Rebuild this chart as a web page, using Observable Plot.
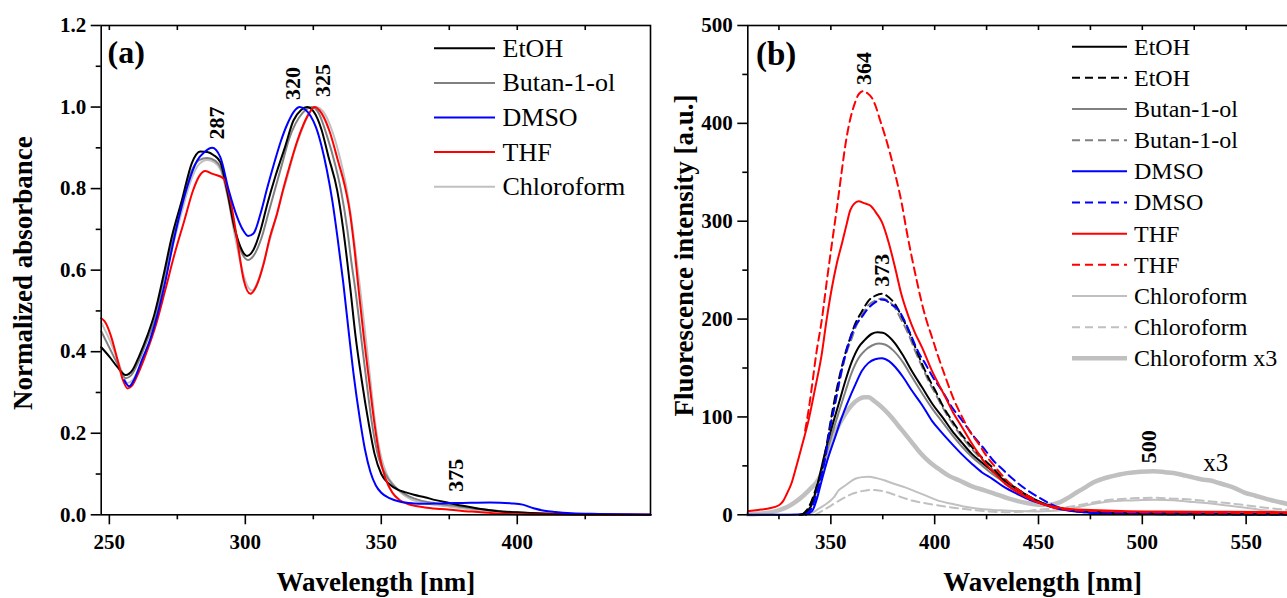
<!DOCTYPE html>
<html>
<head>
<meta charset="utf-8">
<script src="https://cdn.jsdelivr.net/npm/d3@7"></script>
<script src="https://cdn.jsdelivr.net/npm/@observablehq/plot@0.6"></script>
<style>
  html, body { margin: 0; padding: 0; background: #fff; overflow: hidden; }
  #wrap { position: relative; width: 1287px; height: 598px; overflow: hidden; }
  .panel { position: absolute; top: 0; }
  .overlay { position: absolute; top: 0; left: 0; pointer-events: none; }
</style>
</head>
<body>
<div id="wrap"></div>
<script>
const FONT = "'Liberation Serif','Times New Roman',Times,serif";

// ---------- Panel (a): normalized absorbance ----------
const absEtOH = [[247,0.411],[250,0.388],[253,0.362],[256,0.343],[258.5,0.355],[261,0.39],[264,0.44],[266.5,0.49],[270,0.59],[272.9,0.68],[276.7,0.772],[280.3,0.862],[283.4,0.891],[286,0.89],[288.4,0.882],[290.8,0.865],[293.3,0.796],[295.7,0.714],[298.2,0.657],[300.6,0.635],[303,0.65],[305.6,0.698],[308,0.76],[311,0.829],[314.5,0.9],[317.7,0.967],[320.5,0.993],[322.7,1.0],[325,0.99],[328,0.945],[330.5,0.88],[333.8,0.795],[336,0.7],[337.5,0.62],[338.7,0.55],[340.5,0.44],[342.8,0.33],[345.4,0.223],[347.5,0.15],[350,0.1],[353,0.075],[356,0.062],[359,0.055],[362,0.049],[366,0.043],[370,0.036],[375,0.029],[380,0.022],[386,0.015],[393,0.009],[400,0.006],[410,0.003],[425,0.001],[449,0]];
const absButanol = [[247,0.45],[250,0.41],[253,0.37],[256,0.335],[258,0.342],[261,0.38],[264,0.43],[267,0.485],[270,0.58],[273,0.67],[276.5,0.76],[280,0.84],[283,0.87],[286,0.875],[289,0.868],[291,0.85],[293.5,0.785],[296,0.7],[298.5,0.645],[301,0.625],[303,0.635],[306,0.68],[308.5,0.74],[311,0.8],[313.5,0.86],[316,0.92],[318.5,0.96],[321,0.985],[324.5,1.0],[327,0.985],[330,0.93],[333,0.86],[335.2,0.795],[337.5,0.7],[339,0.62],[340.5,0.55],[342.5,0.44],[344.5,0.33],[346.6,0.223],[349,0.14],[351.5,0.1],[354,0.075],[357,0.058],[360,0.046],[364,0.036],[370,0.028],[378,0.021],[386,0.014],[395,0.008],[405,0.004],[420,0.001],[449,0]];
const absDMSO = [[255.5,0.33],[257.3,0.315],[259,0.33],[262,0.38],[265,0.43],[267.5,0.486],[270.5,0.57],[273.7,0.674],[276,0.74],[278.6,0.804],[282.3,0.869],[285,0.89],[287.8,0.9],[290.8,0.877],[293.9,0.796],[297,0.73],[299,0.7],[301,0.684],[303,0.69],[305.6,0.739],[308,0.8],[310.6,0.862],[313,0.915],[315.5,0.959],[318,0.99],[320,1.0],[322,0.994],[324,0.978],[326,0.95],[328,0.905],[330,0.845],[332,0.77],[334,0.675],[336,0.57],[338,0.45],[340,0.335],[342,0.24],[344,0.16],[346,0.105],[348,0.072],[350,0.054],[353,0.041],[357,0.032],[362,0.028],[366,0.027],[372,0.028],[380,0.029],[390,0.03],[398,0.028],[402,0.025],[406,0.016],[410,0.01],[414,0.007],[420,0.004],[430,0.002],[449,0]];
const absTHF = [[247,0.482],[248.5,0.472],[250.5,0.44],[253,0.38],[255,0.33],[256.7,0.31],[258.5,0.318],[260.5,0.345],[263.6,0.397],[267.3,0.47],[270.5,0.55],[274,0.64],[277.5,0.72],[280.8,0.796],[283,0.83],[285.3,0.843],[288,0.836],[292,0.825],[294.5,0.772],[297,0.674],[299.4,0.576],[301.9,0.542],[304,0.56],[306.8,0.617],[309,0.68],[311.7,0.739],[314,0.8],[316.6,0.862],[319,0.915],[321.5,0.959],[323.5,0.985],[325.5,1.0],[328,0.985],[331,0.94],[334,0.87],[336.8,0.8],[338.5,0.74],[340,0.66],[341.7,0.55],[343.5,0.44],[345.5,0.33],[347.5,0.223],[349.5,0.14],[351.5,0.09],[354,0.055],[357,0.035],[361,0.024],[366,0.018],[372,0.014],[381,0.009],[391,0.004],[405,0.001],[449,0]];
const absChloroform = [[247,0.472],[250,0.43],[253,0.38],[255,0.345],[256.5,0.323],[258.5,0.33],[261,0.36],[264,0.41],[267,0.47],[270,0.56],[273,0.65],[276.5,0.74],[280,0.82],[283,0.86],[286,0.87],[288.5,0.865],[291,0.845],[293.5,0.78],[296,0.69],[298.5,0.61],[300.5,0.565],[302.5,0.55],[305,0.58],[308,0.65],[310.5,0.71],[312.9,0.772],[315.5,0.83],[317.8,0.886],[320,0.93],[322.7,0.975],[324.5,0.995],[326,1.0],[329,0.985],[332,0.94],[335,0.87],[337.4,0.795],[339.5,0.7],[341,0.62],[342.3,0.55],[344,0.45],[346,0.33],[347.8,0.223],[350,0.14],[352,0.1],[355,0.07],[358,0.05],[361,0.038],[365,0.03],[370,0.024],[375,0.02],[381.5,0.014],[390,0.009],[400,0.005],[410,0.002],[449,0]];

const absXMajor = [250, 300, 350, 400];
const absXMinor = [275, 325, 375, 425];
const absXTop = [250, 275, 300, 325, 350, 375, 400, 425];
const absYMajor = [0, 0.2, 0.4, 0.6, 0.8, 1.0, 1.2];
const absYMinor = [0.1, 0.3, 0.5, 0.7, 0.9, 1.1];
const absPeakLabels = [
  {t: "287", x: 289.7, y: 0.961},
  {t: "320", x: 317.5, y: 1.058},
  {t: "325", x: 328.4, y: 1.065},
  {t: "375", x: 377.3, y: 0.097}
];

// ---------- Panel (b): fluorescence ----------
const flEtOH = [[335,0],[338,2],[341,12],[344,35],[347,62],[350.5,89.5],[354,115],[357,137],[360,156],[363.3,171],[366.5,179],[369.8,185],[372.5,186.5],[375,186],[378,182],[381,175],[385,162],[389,147],[394,130],[399,113],[404,99],[408.3,86],[413,74],[418,62],[423,53],[427.6,45],[433,36],[440,26],[446,18],[452,12],[458,8],[465,5],[475,3],[490,2],[510,1.5],[540,1],[570,0.8],[594,0.5]];
const flEtOHd = [[336,0],[338.5,5],[340.8,14.6],[343,28],[345.6,45],[348,72],[350.5,103],[353.5,135],[356.9,164.5],[359.5,182],[361.7,195],[365,208],[368.1,218.6],[371.5,224],[374.6,226],[378,222],[381,215],[384,203],[387.5,188],[390.5,172],[393.9,154.3],[397,140],[400.3,127],[404,111],[408.3,96.4],[413,82],[418,69.2],[423,58],[427.6,48.7],[433,37],[440,26],[446,18],[452,12],[458,8],[465,5],[475,3],[490,2],[520,1],[570,0.6],[594,0.5]];
const flButanol = [[335,0],[338,2],[341,11],[344,31],[347,56],[350.5,82],[354,106],[357,126],[360,145],[363.3,160],[366.5,168],[369.8,173],[373,175],[376,174],[380,168],[385,155],[389,141],[394,124],[399,108],[404,94],[408.3,82],[413,70],[418,59],[423,50],[427.6,42],[433,34],[440,24],[446,17],[452,11],[458,7.5],[465,5],[475,3],[490,2],[510,1.5],[540,1],[570,0.8],[594,0.5]];
const flButanold = [[337,0],[339,5],[341,14],[343.5,28],[346,46],[348.5,73],[351,103],[354,134],[357,162],[360,180],[362,192],[365,204],[368,214],[371.5,219],[374.6,221],[378,218],[381,211],[384,199],[387.5,184],[390.5,168],[394,151],[397,137],[400.3,124],[404,109],[408.3,94],[413,80],[418,67],[423,56],[428,46],[433,36],[440,25],[446,17],[452,11],[458,7],[465,4.5],[475,2.8],[490,1.8],[520,1],[570,0.6],[594,0.5]];
const flDMSO = [[310,0],[330,0],[338,0.5],[341,4],[343.5,18],[345.6,35],[348.5,57],[352,79],[355,98],[358.5,117],[362,134],[364.9,147],[368,155],[371.3,159],[374.6,160],[378,157],[381,151],[385,140],[389,127],[394,112],[398.7,96],[403,85],[408.3,72.5],[413,62],[418,52],[423,43],[427.6,37],[433,29],[440,21],[446,15],[452,11],[458,7],[465,4],[475,2],[490,1],[520,0.5],[570,0.3],[594,0.2]];
const flDMSOd = [[338,0],[341,8],[344,28],[347.2,57],[349.5,88],[352,113],[355,146],[358.5,174.6],[361.5,192],[364.9,202],[368,211],[371.3,217],[374,220],[376,219.5],[379,215],[382.7,209],[386,196],[389,181.5],[392,167],[395.5,154.3],[399,141],[403.5,127],[408,111],[413.2,96.4],[418.5,81],[424.4,65.9],[428,56],[432.4,47],[438,36],[444,26],[450,18],[456,11],[462,6],[470,3],[480,1.5],[500,0.8],[550,0.4],[594,0.3]];
const flTHF = [[310,3.7],[315,5],[320,6.5],[324.8,9.5],[327,14],[328.8,21.5],[331,32],[332.8,45],[336,70],[339.2,96],[342.5,130],[345.6,164],[348,200],[350.5,232],[353,258],[355.3,277],[357.5,296],[359.3,311],[361.3,318],[363.3,320.5],[366,318.5],[369,316],[372,308],[374.6,299],[378,277],[381,252],[384,225],[387.5,202],[390.5,186],[393.9,171],[398.7,147],[402,133],[405.2,120],[409,104],[413.2,89.5],[417,76],[421.2,62.3],[425,51],[429.2,41.8],[434,31.6],[440,23],[446,16],[452,11],[458,8],[465,6],[475,5],[490,4],[510,3.4],[540,3],[570,2.7],[594,2.5]];
const flTHFd = [[337.6,86],[339.5,110],[340.8,130],[343,165],[345.6,198.6],[348,238],[350.5,277],[353,315],[355.3,352],[357,378],[358.5,396],[360,410],[361.7,421.5],[363.5,430],[365.8,433],[367.5,431],[369.8,426],[371.5,418],[373.8,402.6],[376,388],[378.6,368.6],[381,348],[384.2,317.6],[386.5,290],[389,263],[391.5,238],[393.9,215.6],[396,199],[398.7,181.5],[401.5,163],[405.2,140.6],[409,119],[413.2,100],[417,85],[421.2,72.5],[425,60],[429.2,48.7],[434,36.8],[440,26],[446,18],[452,11],[458,7],[465,5],[475,4],[490,3],[510,2.5],[540,2],[570,1.8],[594,1.6]];
const flChloroform = [[338,0],[341,2],[344,6],[347,10],[349,13],[351.5,18],[353.7,24.9],[357,30],[361.7,36.8],[365,38.5],[368.1,39],[372,37.5],[376.1,35],[380,32],[385.8,28],[390,24.5],[395.5,19.8],[401,15],[408.3,11.2],[414,8.5],[421.2,6.1],[428,5],[434,4.4],[440,3.8],[449,3.5],[455,3.8],[460,4.5],[468,7.5],[476,11],[484,13.5],[492.6,14.6],[500,15],[505.5,15.3],[515,14.8],[524.8,13],[533,11.5],[540.8,9.5],[549,7.5],[556.9,5],[565,3.5],[570,3],[580,2],[594,1.5]];
const flChloroformd = [[342.4,0],[345,3],[348.9,7.8],[352,12],[356.9,18],[361,22],[364.9,24.2],[369.8,25.5],[374,24.5],[379.3,21.5],[384,18],[389,14.6],[395,12],[401.9,9.5],[410,7],[418,5.1],[426,3.5],[434,2.7],[442,3],[449,5],[456,6],[462,7.2],[468.5,9.5],[476,12.5],[484.6,15.3],[495,16.8],[505.5,17.4],[515,16.5],[524.8,15.3],[533,13.5],[540.8,12],[549,10],[557,7.8],[565,6],[570,5],[580,3.5],[594,2.5]];
const flChloroformX3 = [[310,0.5],[318,1.5],[324.8,4.5],[329,8],[332.8,13],[337,20],[340.8,28],[343,33],[345,40],[347,52],[349,65],[351,78],[353,88],[356.9,103],[360,112],[363.3,118],[366,120],[368.1,120],[370.5,117],[372.9,113],[376,107],[379.3,99.5],[382.5,91],[385.8,82.5],[389,74],[392.2,65.5],[395.5,58],[398.7,52],[402.5,46],[406.7,40],[412,35],[418,29],[424,25],[428.4,22],[435,17],[440,14],[444.4,12],[449,10.5],[454,10],[460.5,13],[464,17],[468.5,23],[472.5,28],[476.6,33.3],[480.5,36.5],[484.6,39],[488.5,41],[492.6,42.6],[499,44],[505.5,44.6],[511,43.5],[516.8,42],[520.8,40],[524.8,38],[528.8,36],[532.8,35],[536.8,32.5],[540.8,30],[544.8,27],[548.9,23],[554.5,19.5],[560.1,16],[565,13.5],[570,11],[580,7],[594,4]];

const flXMajor = [350, 400, 450, 500, 550];
const flXMinor = [325, 375, 425, 475, 525, 575];
const flXTop = [325, 350, 375, 400, 425, 450, 475, 500, 525, 550, 575];
const flYMajor = [0, 100, 200, 300, 400, 500];
const flYMinor = [50, 150, 250, 350, 450];
const flPeakLabels = [
  {t: "364", x: 366, y: 456, w: "bold"},
  {t: "373", x: 374.5, y: 250, w: "normal"},
  {t: "500", x: 503.3, y: 69.5, w: "bold"}
];
const flNoteLabels = [{t: "x3", x: 535.4, y: 53}];

// colours
const C = {etoh: "#000000", but: "#808080", dmso: "#0000ff", thf: "#ff0000", chl: "#c0c0c0"};
const DASH = "8,5";

const absSeries = [
  {name: "EtOH", data: absEtOH, color: C.etoh},
  {name: "Butan-1-ol", data: absButanol, color: C.but},
  {name: "DMSO", data: absDMSO, color: C.dmso},
  {name: "THF", data: absTHF, color: C.thf},
  {name: "Chloroform", data: absChloroform, color: C.chl}
];
const absDrawOrder = ["Chloroform", "Butan-1-ol", "EtOH", "THF", "DMSO"];

const flSeries = [
  {name: "EtOH", data: flEtOH, color: C.etoh, w: 2},
  {name: "EtOH", data: flEtOHd, color: C.etoh, w: 2, dash: DASH},
  {name: "Butan-1-ol", data: flButanol, color: C.but, w: 2},
  {name: "Butan-1-ol", data: flButanold, color: C.but, w: 2, dash: DASH},
  {name: "DMSO", data: flDMSO, color: C.dmso, w: 2},
  {name: "DMSO", data: flDMSOd, color: C.dmso, w: 2, dash: DASH},
  {name: "THF", data: flTHF, color: C.thf, w: 2},
  {name: "THF", data: flTHFd, color: C.thf, w: 2, dash: DASH},
  {name: "Chloroform", data: flChloroform, color: C.chl, w: 2},
  {name: "Chloroform", data: flChloroformd, color: C.chl, w: 2, dash: DASH},
  {name: "Chloroform x3", data: flChloroformX3, color: C.chl, w: 4.5}
];
const flDrawOrder = [10, 8, 9, 3, 2, 0, 4, 1, 5, 6, 7];

const AX = 1.6;

function lineMark(s, w) {
  return Plot.line(s.data, {
    x: d => d[0], y: d => d[1], stroke: s.color,
    strokeWidth: w, strokeDasharray: s.dash, curve: "monotone-x"
  });
}

// Panel (a)
const aW = 660, aH = 598, aML = 100.7, aMR = 10, aMT = 25, aMB = 83.7;
const plotA = Plot.plot({
  width: aW, height: aH,
  marginLeft: aML, marginRight: aMR, marginTop: aMT, marginBottom: aMB,
  x: {domain: [247, 449]},
  y: {domain: [0, 1.2]},
  style: {fontFamily: FONT, fontSize: "21px", fontWeight: "bold", color: "#000", background: "transparent", overflow: "visible"},
  marks: [
    ...absDrawOrder.map(n => lineMark(absSeries.find(s => s.name === n), 2)),
    Plot.frame({stroke: "#000", strokeWidth: AX}),
    Plot.axisX({ticks: absXMajor, tickSize: 10, tickPadding: 9, label: null, strokeWidth: AX, fontSize: 21, fontWeight: "bold"}),
    Plot.axisX({ticks: absXMinor, tickSize: 5, tickFormat: () => "", label: null, strokeWidth: AX}),
    Plot.ruleX(absXTop, {insetBottom: aH - aMT - aMB - 5, stroke: "#000", strokeWidth: AX}),
    Plot.axisY({ticks: absYMajor, tickSize: 10, tickPadding: 5, tickFormat: d3.format(".1f"), label: null, strokeWidth: AX, fontSize: 21, fontWeight: "bold"}),
    Plot.axisY({ticks: absYMinor, tickSize: 5, tickFormat: () => "", label: null, strokeWidth: AX}),
    Plot.text(absPeakLabels, {x: "x", y: "y", text: "t", rotate: -90, fontSize: 22, fontWeight: "bold", textAnchor: "middle", lineAnchor: "middle"}),
    Plot.text(["(a)"], {frameAnchor: "top-left", dx: 6.3, dy: 27.5, textAnchor: "start", lineAnchor: "middle", fontSize: 32, fontWeight: "bold"}),
    Plot.text(["Wavelength [nm]"], {frameAnchor: "bottom", dy: 68, textAnchor: "middle", lineAnchor: "middle", fontSize: 27, fontWeight: "bold"}),
    Plot.text(["Normalized absorbance"], {frameAnchor: "left", dx: 23 - aML, dy: 3, rotate: -90, textAnchor: "middle", lineAnchor: "middle", fontSize: 27, fontWeight: "bold"})
  ]
});

// Panel (b)
const bLeft = 650, bW = 700, bH = 598, bML = 97.3, bMR = 13, bMT = 25, bMB = 83.7;
const plotB = Plot.plot({
  width: bW, height: bH,
  marginLeft: bML, marginRight: bMR, marginTop: bMT, marginBottom: bMB,
  x: {domain: [310, 594]},
  y: {domain: [0, 500]},
  style: {fontFamily: FONT, fontSize: "21px", fontWeight: "bold", color: "#000", background: "transparent", overflow: "visible"},
  marks: [
    ...flDrawOrder.map(i => lineMark(flSeries[i], flSeries[i].w)),
    Plot.frame({stroke: "#000", strokeWidth: AX}),
    Plot.axisX({ticks: flXMajor, tickSize: 10, tickPadding: 9, label: null, strokeWidth: AX, fontSize: 21, fontWeight: "bold"}),
    Plot.axisX({ticks: flXMinor, tickSize: 5, tickFormat: () => "", label: null, strokeWidth: AX}),
    Plot.ruleX(flXTop, {insetBottom: bH - bMT - bMB - 5, stroke: "#000", strokeWidth: AX}),
    Plot.axisY({ticks: flYMajor, tickSize: 10, tickPadding: 5, tickFormat: d3.format("d"), label: null, strokeWidth: AX, fontSize: 21, fontWeight: "bold"}),
    Plot.axisY({ticks: flYMinor, tickSize: 5, tickFormat: () => "", label: null, strokeWidth: AX}),
    Plot.text(flPeakLabels, {x: "x", y: "y", text: "t", rotate: -90, fontSize: 22, fontWeight: d => d.w, textAnchor: "middle", lineAnchor: "middle"}),
    Plot.text(flNoteLabels, {x: "x", y: "y", text: "t", fontSize: 25, fontWeight: "normal", textAnchor: "middle", lineAnchor: "middle"}),
    Plot.text(["(b)"], {frameAnchor: "top-left", dx: 8.2, dy: 29, textAnchor: "start", lineAnchor: "middle", fontSize: 33, fontWeight: "bold"}),
    Plot.text(["Wavelength [nm]"], {frameAnchor: "bottom", dy: 68, textAnchor: "middle", lineAnchor: "middle", fontSize: 27, fontWeight: "bold"}),
    Plot.text(["Fluorescence intensity [a.u.]"], {frameAnchor: "left", dx: 684 - bLeft - bML, dy: -14.7, rotate: -90, textAnchor: "middle", lineAnchor: "middle", fontSize: 27, fontWeight: "bold"})
  ]
});

const wrap = document.getElementById("wrap");
plotA.classList.add("panel"); plotA.style.left = "0px";
plotB.classList.add("panel"); plotB.style.left = bLeft + "px";
wrap.appendChild(plotB);
wrap.appendChild(plotA);

// ---------- Legends (overlay) ----------
const legA = absSeries.map(s => ({label: s.name, color: s.color, w: 2, dash: null}));
const legB = flSeries.map(s => ({label: s.name, color: s.color, w: s.w, dash: s.dash || null}));

const ov = d3.select(wrap).append("svg").attr("class", "overlay")
  .attr("width", 1287).attr("height", 598);

function drawLegend(items, x1, x2, tx, y0, step, fs) {
  const g = ov.append("g").attr("font-family", FONT).attr("font-size", fs);
  items.forEach((it, i) => {
    const y = y0 + i * step;
    g.append("line").attr("x1", x1).attr("x2", x2).attr("y1", y).attr("y2", y)
      .attr("stroke", it.color).attr("stroke-width", it.w)
      .attr("stroke-dasharray", it.dash);
    g.append("text").attr("x", tx).attr("y", y + 0.33 * fs).attr("fill", "#000").text(it.label);
  });
}
drawLegend(legA, 434, 495, 502.5, 48.3, 34.6, 26);
drawLegend(legB, 1072, 1127, 1134, 46.7, 31.16, 24);
</script>
</body>
</html>
